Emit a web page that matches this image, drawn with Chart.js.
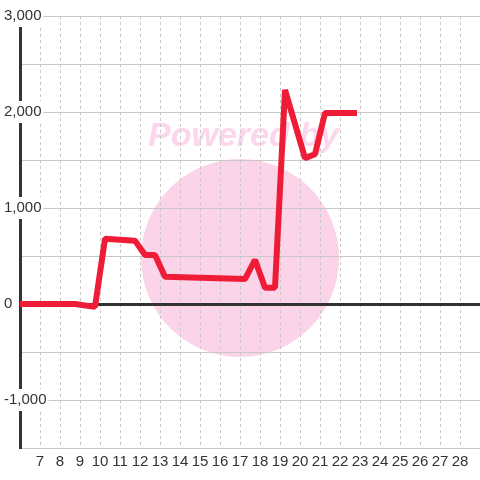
<!DOCTYPE html>
<html>
<head>
<meta charset="utf-8">
<script src="https://cdn.jsdelivr.net/npm/chart.js@4"></script>
<style>
  html, body { margin: 0; padding: 0; background: #fff; }
  #wrap { width: 480px; height: 480px; }
</style>
</head>
<body>
<div id="wrap"><canvas id="chart"></canvas></div>
<script>
// values
const xValues = [6, 8.75, 9.75, 10.25, 11.75, 12.25, 12.75, 13.25, 17.25, 17.75, 18.25, 18.75, 19.25, 20.25, 20.75, 21.25, 22.85];
const yValues = [0, 0, -30, 680, 660, 510, 510, 285, 260, 460, 170, 170, 2230, 1520, 1560, 1990, 1990];
const xMin = 6, xMax = 29;
const xFirstLabel = 7, xLastLabel = 28;
const yMin = -1500, yMax = 3000;

const points = xValues.map((x, i) => ({ x: x, y: yValues[i] }));

// faint "powered by" mark behind the plot
const watermark = {
  id: 'watermark',
  beforeDraw(chart) {
    const c = chart.ctx;
    c.save();
    c.fillStyle = '#fbd4ea';
    c.beginPath();
    c.arc(240, 258, 99, 0, Math.PI * 2);
    c.fill();
    c.font = 'italic bold 34px "Liberation Sans", Arial, sans-serif';
    c.fillStyle = '#fcd6ec';
    c.textBaseline = 'alphabetic';
    c.fillText('Powered by', 148, 146);
    c.restore();
  }
};

const ctx = document.getElementById('chart').getContext('2d');

new Chart(ctx, {
  type: 'line',
  data: {
    datasets: [{
      data: points,
      borderColor: '#ee1c36',
      borderWidth: 6,
      borderJoinStyle: 'bevel',
      pointRadius: 0,
      tension: 0,
      fill: false
    }]
  },
  options: {
    responsive: true,
    maintainAspectRatio: false,
    animation: false,
    layout: { padding: { left: 20, top: 16, right: 0, bottom: 4 } },
    plugins: {
      legend: { display: false },
      tooltip: { enabled: false }
    },
    scales: {
      x: {
        type: 'linear',
        min: xMin,
        max: xMax,
        afterBuildTicks(scale) {
          scale.ticks = scale.ticks.filter(t => t.value >= xFirstLabel && t.value <= xLastLabel);
        },
        border: { display: false, dash: [3, 3] },
        grid: {
          drawTicks: false,
          color: '#c8c8c8'
        },
        ticks: {
          stepSize: 1,
          autoSkip: false,
          maxRotation: 0,
          padding: 5,
          color: '#333',
          font: { family: '"Liberation Sans", Arial, sans-serif', size: 15 }
        }
      },
      y: {
        min: yMin,
        max: yMax,
        afterFit(scale) { scale.width = 0; },
        border: { display: true, color: '#333', width: 3 },
        grid: {
          drawTicks: false,
          color: (c) => (c.tick && c.tick.value === 0) ? '#333' : '#c8c8c8',
          lineWidth: (c) => (c.tick && c.tick.value === 0) ? 3 : 1
        },
        ticks: {
          stepSize: 500,
          mirror: true,
          padding: -16,
          showLabelBackdrop: true,
          backdropColor: '#fff',
          backdropPadding: 2,
          color: '#333',
          font: { family: '"Liberation Sans", Arial, sans-serif', size: 15 },
          callback: (v) => (v % 1000 === 0) ? v.toLocaleString('en-US') : ''
        }
      }
    }
  },
  plugins: [watermark]
});
</script>
</body>
</html>
